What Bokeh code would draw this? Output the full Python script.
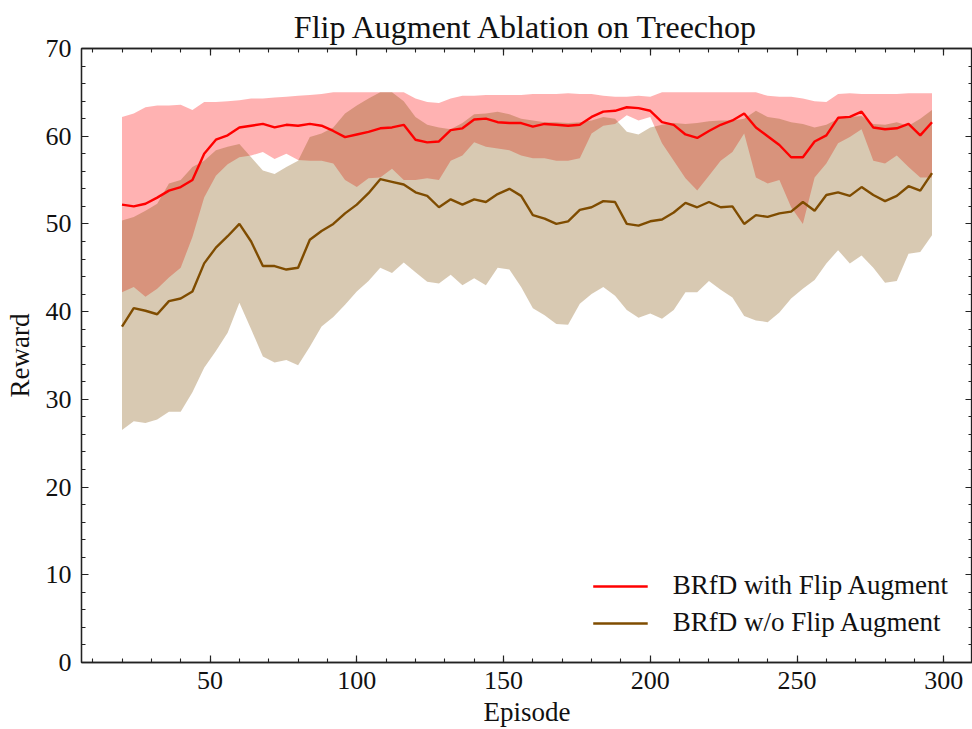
from bokeh.plotting import figure
from bokeh.models import Range1d, LinearAxis, SingleIntervalTicker, Legend, LegendItem, ColumnDataSource
from bokeh.embed import file_html
from bokeh.resources import INLINE

# ---------------- data ----------------
episodes = list(range(20, 297, 4))

with_mean = [52.2, 52.0, 52.3, 53.0, 53.8, 54.2, 55.0, 58.0, 59.6, 60.1,
             61.0, 61.2, 61.4, 61.0, 61.3, 61.2, 61.4, 61.2, 60.6, 59.9,
             60.2, 60.5, 60.9, 61.0, 61.3, 59.6, 59.3, 59.4, 60.7, 60.9,
             61.9, 62.0, 61.6, 61.5, 61.5, 61.1, 61.4, 61.3, 61.2, 61.3,
             62.2, 62.8, 62.9, 63.3, 63.2, 62.9, 61.6, 61.3, 60.2, 59.8,
             60.6, 61.3, 61.8, 62.6, 61.0, 60.0, 59.0, 57.6, 57.6, 59.4,
             60.1, 62.1, 62.2, 62.8, 61.0, 60.8, 60.9, 61.4, 60.1, 61.6]
with_upper = [62.2, 62.6, 63.3, 63.5, 63.5, 63.6, 63.0, 63.9, 63.9, 64.0,
              64.1, 64.3, 64.3, 64.4, 64.5, 64.6, 64.7, 64.8, 65.0, 65.0,
              65.0, 65.0, 65.0, 65.0, 65.0, 64.3, 63.9, 63.8, 64.3, 64.6,
              64.6, 64.7, 64.7, 64.7, 64.7, 64.8, 64.8, 64.8, 64.9, 64.8,
              64.8, 64.6, 64.5, 64.5, 64.6, 64.5, 65.0, 65.0, 65.0, 65.0,
              65.0, 65.0, 65.0, 65.0, 65.0, 64.6, 64.5, 64.5, 64.3, 64.0,
              63.9, 64.8, 64.9, 64.8, 64.8, 64.8, 64.8, 64.9, 64.9, 64.9]
with_lower = [42.2, 42.8, 41.7, 42.6, 43.9, 45.0, 48.5, 53.0, 55.5, 56.8,
              57.6, 57.8, 58.2, 57.4, 58.0, 57.3, 57.2, 57.2, 56.9, 55.0,
              54.2, 55.2, 55.3, 56.3, 55.0, 55.0, 55.2, 55.0, 57.2, 57.8,
              59.3, 58.8, 58.6, 58.4, 57.8, 57.5, 57.5, 57.2, 57.2, 57.5,
              60.3, 61.2, 61.4, 62.4, 61.8, 62.2, 59.2, 57.2, 55.2, 53.8,
              55.5, 57.2, 58.2, 60.3, 55.3, 54.6, 55.0, 51.9, 50.0, 55.3,
              56.9, 59.2, 59.9, 60.8, 57.2, 56.9, 57.8, 56.5, 55.3, 55.3]

without_mean = [38.3, 40.4, 40.1, 39.7, 41.2, 41.5, 42.3, 45.5, 47.3, 48.6,
                50.0, 48.0, 45.2, 45.2, 44.8, 45.0, 48.2, 49.2, 50.0, 51.2,
                52.2, 53.5, 55.1, 54.8, 54.5, 53.6, 53.2, 51.9, 52.8, 52.2,
                52.8, 52.5, 53.4, 54.0, 53.2, 51.0, 50.6, 50.0, 50.3, 51.6,
                51.9, 52.6, 52.5, 50.0, 49.8, 50.3, 50.5, 51.3, 52.4, 51.9,
                52.5, 51.9, 52.0, 50.0, 51.0, 50.8, 51.2, 51.4, 52.5, 51.5,
                53.3, 53.6, 53.2, 54.2, 53.3, 52.6, 53.2, 54.3, 53.8, 55.8]
without_upper = [50.4, 50.8, 51.5, 52.3, 54.6, 55.0, 56.5, 57.2, 58.4, 58.8,
                 59.1, 57.6, 56.1, 55.7, 56.5, 57.2, 59.9, 60.3, 61.0, 62.6,
                 63.5, 64.3, 65.0, 65.0, 64.0, 62.2, 61.3, 61.0, 60.8, 61.5,
                 62.5, 62.6, 62.8, 62.5, 62.0, 61.8, 61.6, 61.6, 61.5, 61.6,
                 61.8, 62.2, 62.0, 60.5, 60.2, 61.0, 61.3, 61.5, 61.4, 61.5,
                 61.7, 61.8, 61.8, 62.0, 62.9, 62.2, 62.0, 61.6, 61.4, 61.0,
                 61.3, 62.0, 62.2, 62.3, 61.4, 61.3, 61.6, 61.2, 62.0, 63.0]
without_lower = [26.5, 27.5, 27.3, 27.7, 28.6, 28.6, 30.8, 33.6, 35.5, 37.6,
                 41.0, 38.0, 34.9, 34.2, 34.5, 33.9, 36.0, 38.3, 39.4, 40.8,
                 42.3, 43.5, 45.0, 44.4, 45.6, 44.5, 43.4, 43.2, 44.2, 43.0,
                 43.8, 43.0, 45.0, 44.8, 42.8, 40.4, 39.6, 38.6, 38.5, 40.9,
                 42.0, 42.8, 41.8, 40.2, 39.3, 39.8, 39.2, 40.2, 42.2, 42.2,
                 43.5, 42.5, 41.6, 39.5, 39.0, 38.8, 39.9, 41.5, 42.6, 43.6,
                 45.5, 47.0, 45.5, 46.4, 45.0, 43.3, 43.5, 46.6, 46.8, 48.7]

series_labels = ["BRfD with Flip Augment", "BRfD w/o Flip Augment"]
title_text = "Flip Augment Ablation on Treechop"
x_label = "Episode"
y_label = "Reward"

# ---------------- styling ----------------
FONT = "Liberation Serif"
RED = "#FF0000"
BROWN = "#7F4C00"
INK = "#111111"
AXC = "#222222"

src = ColumnDataSource(dict(
    x=episodes,
    wm=with_mean, wu=with_upper, wl=with_lower,
    om=without_mean, ou=without_upper, ol=without_lower,
))

p = figure(width=972, height=729, output_backend="svg", toolbar_location=None,
           x_range=Range1d(6.2, 309.8), y_range=Range1d(0, 70),
           min_border_left=81, min_border_right=0, min_border_top=48,
           min_border_bottom=66)

p.title.text = title_text
p.title.align = "center"
p.title.text_font = FONT
p.title.text_font_size = "32px"
p.title.text_font_style = "normal"
p.title.text_color = INK
p.title.standoff = 7

p.xgrid.visible = False
p.ygrid.visible = False
p.outline_line_color = AXC
p.outline_line_width = 1.3
p.background_fill_color = "white"
p.border_fill_color = "white"

xt = SingleIntervalTicker(interval=50, num_minor_ticks=5)
yt = SingleIntervalTicker(interval=10, num_minor_ticks=5)


def style_axis(ax, show_labels):
    ax.axis_line_color = AXC
    ax.axis_line_width = 1.3
    ax.major_tick_in = 7
    ax.major_tick_out = 0
    ax.minor_tick_in = 4
    ax.minor_tick_out = 0
    ax.major_tick_line_color = AXC
    ax.minor_tick_line_color = AXC
    ax.major_tick_line_width = 1.2
    ax.minor_tick_line_width = 1.1
    if show_labels:
        ax.major_label_text_font = FONT
        ax.major_label_text_font_size = "26px"
        ax.major_label_text_color = INK
        ax.axis_label_text_font = FONT
        ax.axis_label_text_font_size = "27px"
        ax.axis_label_text_font_style = "normal"
        ax.axis_label_text_color = INK
    else:
        ax.major_label_text_color = None
        ax.major_label_text_font_size = "0px"
        ax.major_label_standoff = 0


xa = p.xaxis[0]
xa.ticker = xt
style_axis(xa, True)
xa.axis_label = x_label
xa.major_label_standoff = 9
xa.axis_label_standoff = 5

ya = p.yaxis[0]
ya.ticker = yt
style_axis(ya, True)
ya.axis_label = y_label
ya.major_label_standoff = 10
ya.axis_label_standoff = 8

top_ax = LinearAxis(ticker=xt)
style_axis(top_ax, False)
p.add_layout(top_ax, "above")

right_ax = LinearAxis(ticker=yt)
style_axis(right_ax, False)
p.add_layout(right_ax, "right")

# bands
p.varea(x="x", y1="wl", y2="wu", source=src, fill_color=RED, fill_alpha=0.3)
p.varea(x="x", y1="ol", y2="ou", source=src, fill_color=BROWN, fill_alpha=0.3)
# mean lines
r1 = p.line(x="x", y="wm", source=src, line_color=RED, line_width=2.4)
r2 = p.line(x="x", y="om", source=src, line_color=BROWN, line_width=2.4)

legend = Legend(items=[LegendItem(label=series_labels[0], renderers=[r1]),
                       LegendItem(label=series_labels[1], renderers=[r2])],
                location="bottom_right")
legend.border_line_color = None
legend.background_fill_alpha = 0
legend.label_text_font = FONT
legend.label_text_font_size = "27px"
legend.label_text_color = INK
legend.glyph_width = 55
legend.glyph_height = 30
legend.label_height = 30
legend.label_standoff = 25
legend.spacing = 6
legend.padding = 10
legend.margin = 24
p.add_layout(legend)

open("out.html", "w").write(file_html(p, INLINE))
